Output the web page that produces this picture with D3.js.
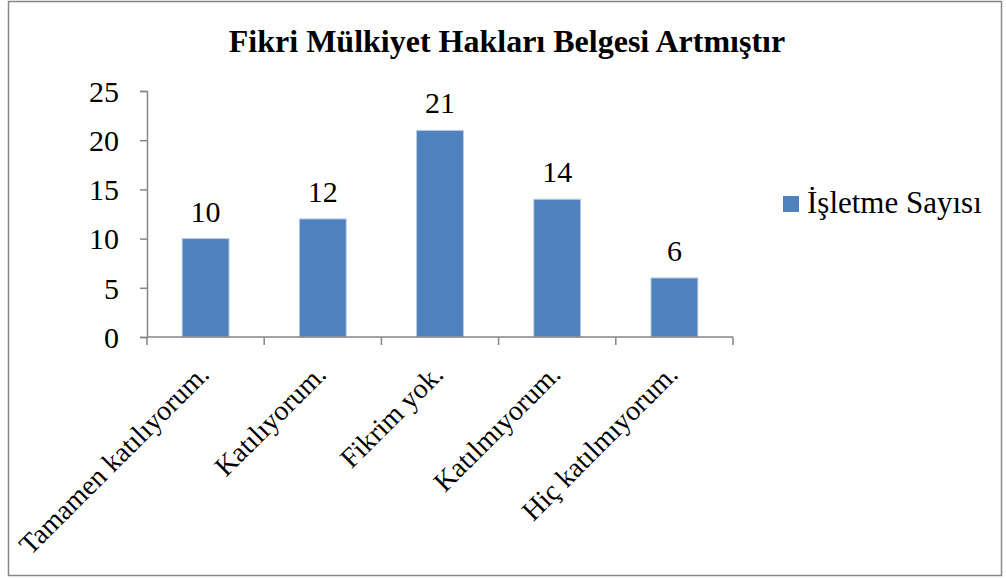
<!DOCTYPE html>
<html>
<head>
<meta charset="utf-8">
<script src="https://cdn.jsdelivr.net/npm/d3@7"></script>
<style>
  body { margin: 0; background: #fff; }
  svg text { font-family: 'Times New Roman', 'Liberation Serif', Tinos, FreeSerif, serif; }
</style>
</head>
<body>
<script>
// chart data
const categories = ['Tamamen katılıyorum.', 'Katılıyorum.', 'Fikrim yok.', 'Katılmıyorum.', 'Hiç katılmıyorum.']
const values = [10, 12, 21, 14, 6]
const yTicks = [0, 5, 10, 15, 20, 25]
const seriesName = 'İşletme Sayısı'
const chartTitle = 'Fikri Mülkiyet Hakları Belgesi Artmıştır'

var width = 1006,
  height = 579

var fontFamily = "'Times New Roman', 'Liberation Serif', Tinos, FreeSerif, serif"

var plot = { left: 147, right: 733, top: 91, bottom: 337 }

var svg = d3
  .select('body')
  .append('svg')
  .attr('width', width)
  .attr('height', height)

// outer frame
svg
  .append('rect')
  .attr('x', 8.5)
  .attr('y', 1.5)
  .attr('width', 993)
  .attr('height', 574)
  .attr('fill', '#fff')
  .attr('stroke', '#878787')
  .attr('stroke-width', 1.5)

svg
  .append('text')
  .attr('x', 507)
  .attr('y', 52)
  .attr('text-anchor', 'middle')
  .style('font-family', fontFamily)
  .style('font-size', '32px')
  .style('font-weight', 'bold')
  .text(chartTitle)

var x = d3
  .scaleBand()
  .domain(categories)
  .range([plot.left, plot.right])
  .paddingInner(0.6)
  .paddingOuter(0.3)

var y = d3
  .scaleLinear()
  .domain([0, 25])
  .range([plot.bottom, plot.top])

// y axis
var yAxis = svg
  .append('g')
  .attr('transform', 'translate(' + plot.left + ',0)')
  .call(d3.axisLeft(y).tickValues(yTicks).tickSize(7).tickPadding(21))
yAxis.attr('font-family', null)
yAxis.select('.domain').attr('stroke', '#868686').attr('stroke-width', 1.5)
yAxis.selectAll('.tick line').attr('stroke', '#868686').attr('stroke-width', 1.5)
yAxis
  .selectAll('.tick text')
  .style('font-family', fontFamily)
  .style('font-size', '30px')
  .attr('fill', '#000')
  .attr('dy', '0.34em')

// bars
svg
  .selectAll('rect.bar')
  .data(values)
  .enter()
  .append('rect')
  .attr('class', 'bar')
  .attr('x', (d, i) => x(categories[i]))
  .attr('y', d => y(d))
  .attr('width', x.bandwidth())
  .attr('height', d => y(0) - y(d))
  .attr('fill', '#4F81BD')
  .attr('stroke', '#BCCCE2')
  .attr('stroke-width', 1)

// x axis with boundary ticks
var step = x.step()
var edges = d3.range(categories.length + 1).map(i => plot.left + i * step)
var xAxis = svg.append('g')
xAxis
  .append('line')
  .attr('x1', plot.left)
  .attr('x2', plot.right)
  .attr('y1', plot.bottom)
  .attr('y2', plot.bottom)
  .attr('stroke', '#868686')
  .attr('stroke-width', 1.5)
xAxis
  .selectAll('line.tick')
  .data(edges)
  .enter()
  .append('line')
  .attr('class', 'tick')
  .attr('x1', d => d)
  .attr('x2', d => d)
  .attr('y1', plot.bottom)
  .attr('y2', plot.bottom + 8)
  .attr('stroke', '#868686')
  .attr('stroke-width', 1.5)

// category labels, rotated
svg
  .selectAll('text.cat')
  .data(categories)
  .enter()
  .append('text')
  .attr('class', 'cat')
  .attr('text-anchor', 'end')
  .style('font-family', fontFamily)
  .style('font-size', '28px')
  .attr('transform', d => 'translate(' + (x(d) + x.bandwidth() / 2 + 5) + ',' + 376 + ') rotate(-45)')
  .text(d => d)

// value labels
svg
  .selectAll('text.val')
  .data(values)
  .enter()
  .append('text')
  .attr('class', 'val')
  .attr('text-anchor', 'middle')
  .style('font-family', fontFamily)
  .style('font-size', '30px')
  .attr('x', (d, i) => x(categories[i]) + x.bandwidth() / 2)
  .attr('y', d => y(d) - 17)
  .text(d => d)

// legend
var legend = svg.append('g').attr('transform', 'translate(783,196)')
legend
  .append('rect')
  .attr('width', 16)
  .attr('height', 16)
  .attr('fill', '#4F81BD')
legend
  .append('text')
  .attr('x', 24)
  .attr('y', 17)
  .style('font-family', fontFamily)
  .style('font-size', '31px')
  .text(seriesName)
</script>
</body>
</html>
